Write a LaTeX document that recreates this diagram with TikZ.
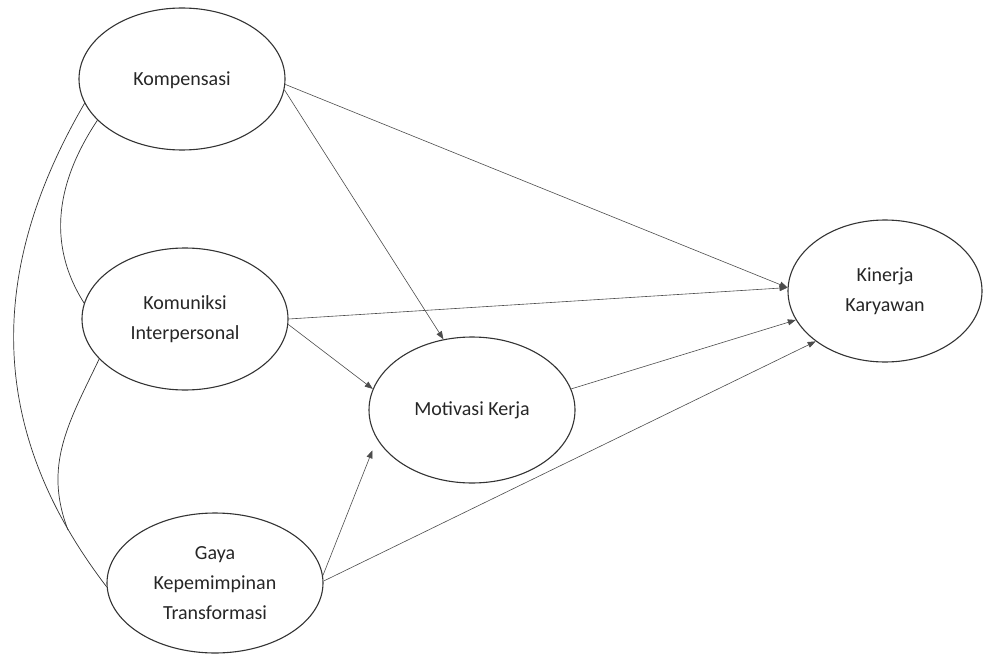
\documentclass[tikz,border=0pt]{standalone}
\usepackage{fontspec}
\setmainfont{Carlito}
\usetikzlibrary{arrows.meta,shapes.geometric}
\begin{document}
\begin{tikzpicture}[x=1pt,y=-1pt,
  lat/.style={draw=black!80, line width=1.1pt, ellipse, inner sep=0pt,
    align=center, text=black!85, font=\fontsize{20}{30}\selectfont},
  path/.style={draw=black!70, line width=0.6pt,
    -{Triangle[length=8pt,width=6pt]}},
  cov/.style={draw=black!80, line width=0.7pt}]
\useasboundingbox (0,0) rectangle (984,655);
\node[lat, minimum width=206pt, minimum height=142pt, text depth=-8pt] (komp) at (182,79) {Kompensasi};
\node[lat, minimum width=206pt, minimum height=142pt] (kom) at (185,319) {Komuniksi\\Interpersonal};
\node[lat, minimum width=216pt, minimum height=140pt] (gaya) at (215,583) {Gaya\\Kepemimpinan\\Transformasi};
\node[lat, minimum width=206pt, minimum height=146pt] (mot) at (472,410) {Motivasi Kerja};
\node[lat, minimum width=194pt, minimum height=142pt] (kin) at (885,291) {Kinerja\\Karyawan};
\coordinate (j) at (68,530);
% structural paths
\draw[path] (komp.-3) -- (kin.178);
\draw[path] (komp.-6) -- (mot.112);
\draw[path] (kom.0) -- (kin.178);
\draw[path] (kom.-3) -- (mot.168);
\draw[path, shorten >=12pt] (gaya.4) -- (mot.197);
\draw[path] (gaya.1) -- (kin.216);
\draw[path] (mot.12) -- (kin.198);
% correlations
\draw[cov] (komp.194) .. controls (-12,269) and (-15,428) .. (gaya.182);
\draw[cov] (komp.206) .. controls (57,181) and (46,243) .. (kom.171);
\draw[cov] (kom.205) .. controls (69,422) and (43,465) .. (j);
\end{tikzpicture}
\end{document}
